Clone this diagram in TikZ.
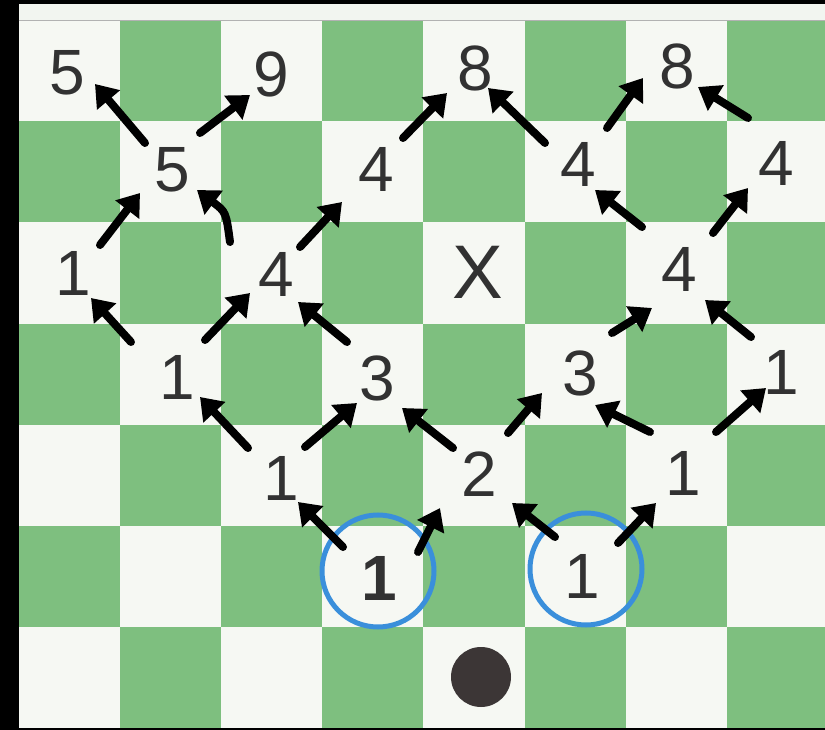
\documentclass[tikz,border=0pt]{standalone}
\usepackage{fontspec}
\setmainfont{Liberation Sans}
\usetikzlibrary{arrows.meta}
\definecolor{boardgreen}{RGB}{126,191,127}
\definecolor{boardwhite}{RGB}{246,248,243}
\definecolor{stripwhite}{RGB}{242,245,240}
\definecolor{ringblue}{RGB}{58,143,219}
\definecolor{inkgray}{RGB}{50,50,50}
\definecolor{dotgray}{RGB}{60,54,54}
\newcommand\arw[4]{\draw[arr] ([shift={#2}]#1.center) -- ([shift={#4}]#3.center);}
\begin{document}
\begin{tikzpicture}[x=1pt,y=-1pt,
  num/.style={font=\fontsize{64}{64}\selectfont, text=inkgray, inner sep=0pt},
  bignum/.style={font=\fontsize{76}{76}\selectfont, text=inkgray, inner sep=0pt},
  ring/.style={circle, draw=ringblue, line width=5pt, minimum size=112pt, inner sep=0pt},
  arr/.style={line width=8pt, line cap=round, -{Triangle[length=21pt,width=29pt]}},
  whitecell/.style={fill=boardwhite},
  greencell/.style={fill=boardgreen}]
\useasboundingbox (0,0) rectangle (825,730);
\fill[black] (0,0) rectangle (825,730);
\fill[stripwhite] (18.5,4) rectangle (825,20);
\begin{scope}
\clip (18.5,20) rectangle (825,728.5);
\foreach \r in {0,...,6} {
  \foreach \c in {0,...,7} {
    \pgfmathtruncatemacro\cellpar{mod(\r+\c,2)}
    \ifnum\cellpar=0
      \fill[whitecell] (18.5+101.2*\c,20+101.2*\r) rectangle ++(101.2,101.2);
    \else
      \fill[greencell] (18.5+101.2*\c,20+101.2*\r) rectangle ++(101.2,101.2);
    \fi
  }
}
\end{scope}
\draw[gray!60, line width=0.8pt] (18.5,20) -- (825,20);

% numbers
\node[num] (n00) at (67,73) {5};
\node[num] (n02) at (271,74) {9};
\node[num] (n04) at (475,68) {8};
\node[num] (n06) at (677,66) {8};
\node[num] (n11) at (172,170) {5};
\node[num] (n13) at (376,169) {4};
\node[num] (n15) at (578,164) {4};
\node[num] (n17) at (776,163) {4};
\node[num] (n20) at (73,273) {1};
\node[num] (n22) at (276,274) {4};
\node[bignum] (nX) at (478,272) {X};
\node[num] (n26) at (679,269) {4};
\node[num] (n31) at (177,377) {1};
\node[num] (n33) at (377,378) {3};
\node[num] (n35) at (580,373) {3};
\node[num] (n37) at (781,372) {1};
\node[num] (n42) at (281,478) {1};
\node[num] (n44) at (479,474) {2};
\node[num] (n46) at (683,473) {1};

% circled starting squares
\node[ring] (c53) at (378,571) {};
\node[ring] (c55) at (586,569) {};
\node[num, font=\fontsize{64}{64}\selectfont\bfseries] (t53) at (379,578) {1};
\node[num] (t55) at (582,576) {1};

% pawn
\node[circle, fill=dotgray, minimum size=60pt, inner sep=0pt] (pawn) at (481,677) {};

% arrows
\arw{n11}{(-27,-27)}{n00}{(28,11)}
\arw{n11}{(28,-37)}{n02}{(-21,21)}
\arw{n20}{(27,-28)}{n11}{(-32,23)}
\draw[arr] ([shift={(-46,-32)}]n22.center) .. controls ([shift={(-50,-62)}]n22.center) .. ([shift={(25,20)}]n11.center);
\arw{n22}{(24,-27)}{n13}{(-34,33)}
\arw{n31}{(-46,-35)}{n20}{(18,25)}
\arw{n31}{(28,-37)}{n22}{(-26,19)}
\arw{n33}{(-30,-36)}{n22}{(22,28)}
\arw{n13}{(27,-31)}{n04}{(-28,25)}
\arw{n15}{(-33,-21)}{n04}{(13,20)}
\arw{n15}{(29,-36)}{n06}{(-34,12)}
\arw{n17}{(-28,-45)}{n06}{(21,21)}
\arw{n26}{(-37,-42)}{n15}{(17,26)}
\arw{n26}{(34,-36)}{n17}{(-28,25)}
\arw{n35}{(32,-40)}{n26}{(-27,39)}
\arw{n37}{(-30,-35)}{n26}{(26,31)}
\arw{n42}{(-33,-30)}{n31}{(23,20)}
\arw{n42}{(24,-31)}{n33}{(-20,25)}
\arw{c53}{(-35,-24)}{n42}{(17,24)}
\arw{c53}{(40,-19)}{n44}{(-39,34)}
\arw{n44}{(-26,-26)}{n33}{(25,30)}
\arw{n44}{(29,-41)}{n35}{(-38,20)}
\arw{n46}{(-33,-41)}{n35}{(15,32)}
\arw{n46}{(33,-41)}{n37}{(-15,16)}
\arw{c55}{(-31,-32)}{n44}{(33,29)}
\arw{c55}{(32,-26)}{n46}{(-27,30)}
\end{tikzpicture}
\end{document}
